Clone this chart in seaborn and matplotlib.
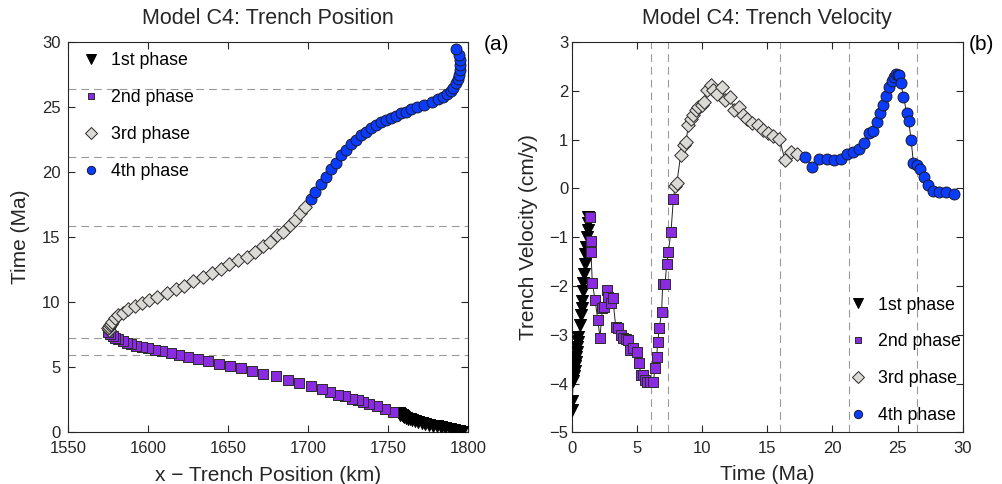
import numpy as np
import pandas as pd
import matplotlib
matplotlib.use("Agg")
import matplotlib.pyplot as plt
from matplotlib.lines import Line2D
import seaborn as sns

# ---------------- data ----------------
phase_labels = ["1st phase", "2nd phase", "3rd phase", "4th phase"]

# Trench position (left panel): time (Ma) and x (km)
pos_t1 = [0.05, 0.1, 0.17, 0.24, 0.31, 0.38, 0.45, 0.52, 0.59, 0.66, 0.73, 0.8, 0.87,
          0.94, 1.0, 1.06, 1.12, 1.18, 1.24, 1.3, 1.36, 1.42, 1.48]
pos_x1 = [1796, 1794, 1791.2, 1788.4, 1785.6, 1782.9, 1780.3, 1777.8, 1775.4, 1773.1,
          1770.9, 1768.8, 1766.8, 1765, 1763.5, 1762.2, 1761, 1760, 1759.1, 1758.3,
          1757.6, 1757, 1756.5]

pos_t2 = [1.56, 1.82, 2.0, 2.15, 2.33, 2.46, 2.59, 2.77, 2.9, 3.1, 3.31, 3.56, 3.79, 4.05,
          4.31, 4.51, 4.72, 4.95, 5.1, 5.28, 5.46, 5.62, 5.79, 5.97, 6.1, 6.23, 6.36, 6.49,
          6.56, 6.67, 6.77, 6.9, 7.02, 7.15, 7.28, 7.38, 7.59, 7.72]
pos_x2 = [1753.1, 1747.9, 1742.7, 1738.1, 1734, 1730.9, 1727.1, 1723, 1718.8, 1713.6,
          1708.4, 1701.5, 1694.4, 1687.1, 1679.6, 1671.9, 1664.6, 1657.7, 1651.1, 1644.4,
          1637.5, 1631.3, 1625, 1619.4, 1614, 1608.8, 1604.2, 1600, 1595.9, 1592.3, 1589,
          1586.5, 1584, 1581.3, 1579.2, 1577.7, 1576, 1575]

pos_t3 = [7.85, 7.98, 8.1, 8.23, 8.35, 8.48, 8.75, 9.0, 9.18, 9.44, 9.69, 9.95, 10.15,
          10.41, 10.67, 10.98, 11.23, 11.62, 11.95, 12.26, 12.59, 12.97, 13.23, 13.49,
          13.87, 14.3, 14.64, 15.15, 15.41, 15.92, 16.31, 16.82, 17.33]
pos_x3 = [1575.2, 1575, 1575.5, 1576, 1576.7, 1577.5, 1579.2, 1581.3, 1584, 1587.5,
          1591.7, 1595.9, 1600.6, 1605.6, 1611.5, 1617.1, 1622.5, 1628.1, 1634, 1639.6,
          1645.4, 1650.6, 1656.3, 1661.5, 1666.7, 1671.9, 1676, 1680.2, 1684.4, 1688.5,
          1691.7, 1694.8, 1697.9]

pos_t4 = [17.9, 18.5, 19.05, 19.64, 20.23, 20.72, 21.3, 21.7, 22.15, 22.5, 22.85, 23.1,
          23.36, 23.6, 23.82, 24.0, 24.18, 24.33, 24.51, 24.64, 24.82, 24.97, 25.15, 25.41,
          25.59, 25.79, 26.0, 26.26, 26.5, 26.82, 27.13, 27.46, 27.85, 28.23, 28.6, 29.0,
          29.46]
pos_x4 = [1701.5, 1704.2, 1707.7, 1710.9, 1714, 1717.1, 1720.3, 1723.4, 1726.5, 1729.6,
          1732.8, 1735.9, 1739, 1742.1, 1745.3, 1748.4, 1751.5, 1754.6, 1757.8, 1760.9,
          1764, 1767.7, 1772.3, 1777.1, 1781.3, 1784.4, 1786.9, 1789, 1790.6, 1792.3,
          1793.8, 1794.4, 1794.8, 1794.8, 1794.6, 1794, 1792.3]

# Trench velocity (right panel): time (Ma) and velocity (cm/y)
vel_t1 = [0.03, 0.05, 0.12, 0.17, 0.22, 0.27, 0.31, 0.35, 0.39, 0.43, 0.47, 0.52, 0.62,
          0.7, 0.76, 0.8, 0.86, 0.9, 0.95, 1.0, 1.04, 1.1, 1.16, 1.22, 1.26, 1.28]
vel_v1 = [-4.55, -4.35, -3.95, -3.85, -3.75, -3.65, -3.55, -3.45, -3.35, -3.25, -3.15,
          -3.05, -2.8, -2.6, -2.45, -2.3, -2.1, -1.95, -1.75, -1.55, -1.35, -1.2, -1.0,
          -0.85, -0.7, -0.58]

vel_t2 = [1.41, 1.46, 1.48, 1.58, 1.79, 2.0, 2.17, 2.35, 2.5, 2.69, 2.81, 2.99, 3.15, 3.38,
          3.58, 3.78, 3.96, 4.17, 4.34, 4.47, 4.73, 4.99, 5.16, 5.32, 5.5, 5.63, 5.8, 6.0,
          6.26, 6.39, 6.52, 6.6, 6.72, 6.9, 6.98, 7.16, 7.29, 7.41, 7.62, 7.8]
vel_v2 = [-0.58, -1.08, -1.3, -1.94, -2.28, -2.69, -3.06, -2.46, -2.44, -2.09, -2.22,
          -2.35, -2.24, -2.84, -2.87, -3.01, -3.06, -3.08, -3.11, -3.32, -3.28, -3.35,
          -3.58, -3.83, -3.83, -3.93, -3.97, -3.97, -3.97, -3.69, -3.45, -3.15, -2.87,
          -2.53, -1.96, -1.96, -1.55, -1.3, -0.89, -0.21]

vel_t3 = [7.95, 8.06, 8.36, 8.62, 8.77, 8.95, 9.13, 9.33, 9.54, 9.72, 9.97, 10.15, 10.36,
          10.67, 10.87, 11.17, 11.56, 11.76, 12.15, 12.46, 12.84, 13.12, 13.48, 13.86,
          14.27, 14.66, 15.09, 15.47, 15.93, 16.37, 16.8, 17.31]
vel_v3 = [0.05, 0.1, 0.68, 0.89, 0.95, 1.3, 1.43, 1.5, 1.6, 1.66, 1.71, 1.78, 2.02, 2.12,
          2.02, 1.93, 2.08, 1.81, 1.87, 1.6, 1.67, 1.5, 1.43, 1.33, 1.3, 1.19, 1.13, 1.07,
          1.02, 0.58, 0.75, 0.7]

vel_t4 = [17.9, 18.47, 18.98, 19.57, 20.13, 20.67, 21.15, 21.61, 22.07, 22.43, 22.84, 23.1,
          23.41, 23.66, 23.87, 24.12, 24.35, 24.56, 24.76, 24.89, 25.07, 25.15, 25.27,
          25.45, 25.71, 25.86, 26.04, 26.22, 26.48, 26.73, 27.04, 27.37, 27.75, 28.21,
          28.73, 29.36]
vel_v4 = [0.65, 0.44, 0.61, 0.61, 0.59, 0.61, 0.7, 0.74, 0.8, 0.94, 1.13, 1.18, 1.37, 1.55,
          1.71, 1.89, 2.08, 2.21, 2.29, 2.34, 2.32, 2.32, 2.15, 1.88, 1.54, 1.38, 0.99,
          0.52, 0.48, 0.39, 0.24, 0.07, -0.05, -0.08, -0.07, -0.12]

# phase boundary times (dashed lines)
bound_pos = [5.92, 7.28, 15.87, 21.18, 26.36]
bound_vel = [6.06, 7.42, 15.99, 21.28, 26.47]

pos_xticks = [1550, 1600, 1650, 1700, 1750, 1800]
pos_yticks = [0, 5, 10, 15, 20, 25, 30]
vel_xticks = [0, 5, 10, 15, 20, 25, 30]
vel_yticks = [-5, -4, -3, -2, -1, 0, 1, 2, 3]

# ---------------- style ----------------
sns.set_theme(style="ticks")
plt.rcParams['font.family'] = ['Liberation Sans', 'DejaVu Sans']
plt.rcParams['axes.unicode_minus'] = True
TXT = '#262626'

markers = ['v', 's', 'D', 'o']
faces = ['#000000', '#8A2BE2', '#DCDAD6', '#0A3CFF']
edges = ['#000000', '#2a2a2a', '#2a2a2a', '#1a1a2a']
sizes_main = [75, 50, 48, 62]
legend_ms = [6.5, 4.6, 6.0, 6.0]

W, H = 1002, 484
fig = plt.figure(figsize=(W / 100, H / 100), dpi=100)
axL = fig.add_axes([68.3 / W, (H - 432.3) / H, 400 / W, 390.3 / H])
axR = fig.add_axes([571.7 / W, (H - 432.3) / H, 391 / W, 390.3 / H])

dash = (0, (7, 4.5))
# ---------- left panel ----------
for b in bound_pos:
    axL.axhline(b, color='#9a9a9a', lw=0.8, ls=dash, zorder=1)

pos_sets = [(pos_x1, pos_t1), (pos_x2, pos_t2), (pos_x3, pos_t3), (pos_x4, pos_t4)]
for i, (xx, tt) in enumerate(pos_sets):
    df = pd.DataFrame({'x': xx, 't': tt})
    sns.scatterplot(data=df, x='x', y='t', marker=markers[i], s=sizes_main[i],
                    color=faces[i], edgecolor=edges[i], linewidth=0.7,
                    ax=axL, zorder=3 + i, legend=False)

axL.set_xlim(1550, 1800)
axL.set_ylim(0, 30)
axL.set_xticks(pos_xticks)
axL.set_yticks(pos_yticks)
axL.set_xlabel('x \u2212 Trench Position (km)', fontsize=15, color=TXT)
axL.set_ylabel('Time (Ma)', fontsize=15, color=TXT)
axL.set_title('Model C4: Trench Position', fontsize=15.5, color=TXT, pad=13)
axL.tick_params(axis='x', pad=6)
axL.tick_params(axis='y', pad=5.5)

# ---------- right panel ----------
for b in bound_vel:
    axR.axvline(b, color='#9a9a9a', lw=0.8, ls=dash, zorder=1)

vel_sets = [(vel_t1, vel_v1), (vel_t2, vel_v2), (vel_t3, vel_v3), (vel_t4, vel_v4)]
all_t = sum([list(s[0]) for s in vel_sets], [])
all_v = sum([list(s[1]) for s in vel_sets], [])
sns.lineplot(x=all_t, y=all_v, sort=False, estimator=None, color='#222222', lw=0.7,
             ax=axR, zorder=2)
for i, (tt, vv) in enumerate(vel_sets):
    df = pd.DataFrame({'t': tt, 'v': vv})
    sns.scatterplot(data=df, x='t', y='v', marker=markers[i], s=sizes_main[i],
                    color=faces[i], edgecolor=edges[i], linewidth=0.7,
                    ax=axR, zorder=3 + i, legend=False)

axR.set_xlim(0, 30)
axR.set_ylim(-5, 3)
axR.set_xticks(vel_xticks)
axR.set_yticks(vel_yticks)
axR.set_xlabel('Time (Ma)', fontsize=15, color=TXT)
axR.set_ylabel('Trench Velocity (cm/y)', fontsize=15, color=TXT)
axR.set_title('Model C4: Trench Velocity', fontsize=15.5, color=TXT, pad=13)
axR.tick_params(axis='x', pad=6)
axR.tick_params(axis='y', pad=2.5)

for ax in (axL, axR):
    ax.tick_params(direction='in', top=True, right=True, length=5, width=0.8,
                   labelsize=12, colors=TXT)
    for sp in ax.spines.values():
        sp.set_visible(True)
        sp.set_color(TXT)
        sp.set_linewidth(0.8)

axL.yaxis.set_label_coords(-0.095, 0.5)
axR.yaxis.set_label_coords(-0.087, 0.5)
axL.xaxis.set_label_coords(0.5, -0.087)
axR.xaxis.set_label_coords(0.5, -0.085)

# ---------- legends ----------
def handles():
    return [Line2D([], [], ls='none', marker=markers[i], markersize=legend_ms[i],
                   markerfacecolor=faces[i], markeredgecolor=edges[i],
                   markeredgewidth=0.7) for i in range(4)]

legL = axL.legend(handles(), phase_labels, loc='upper left',
                  bbox_to_anchor=(14 / 400, 1 - 10 / 390.3), frameon=False,
                  fontsize=12.8, labelspacing=1.12, handlelength=1.0,
                  handletextpad=0.6, borderpad=0, borderaxespad=0)
for t in legL.get_texts():
    t.set_color('#000000')
legR = axR.legend(handles(), phase_labels, loc='lower right',
                  bbox_to_anchor=(1 - 2 / 391, 8 / 390.3), frameon=False,
                  fontsize=12.8, labelspacing=1.12, handlelength=1.0,
                  handletextpad=0.6, borderpad=0, borderaxespad=0)
for t in legR.get_texts():
    t.set_color('#000000')

fig.text(484 / W, 1 - 44 / H, '(a)', fontsize=15, color='#000000', va='center', ha='left')
fig.text(969 / W, 1 - 44 / H, '(b)', fontsize=15, color='#000000', va='center', ha='left')

fig.savefig('out.png', dpi=100, facecolor='white')
